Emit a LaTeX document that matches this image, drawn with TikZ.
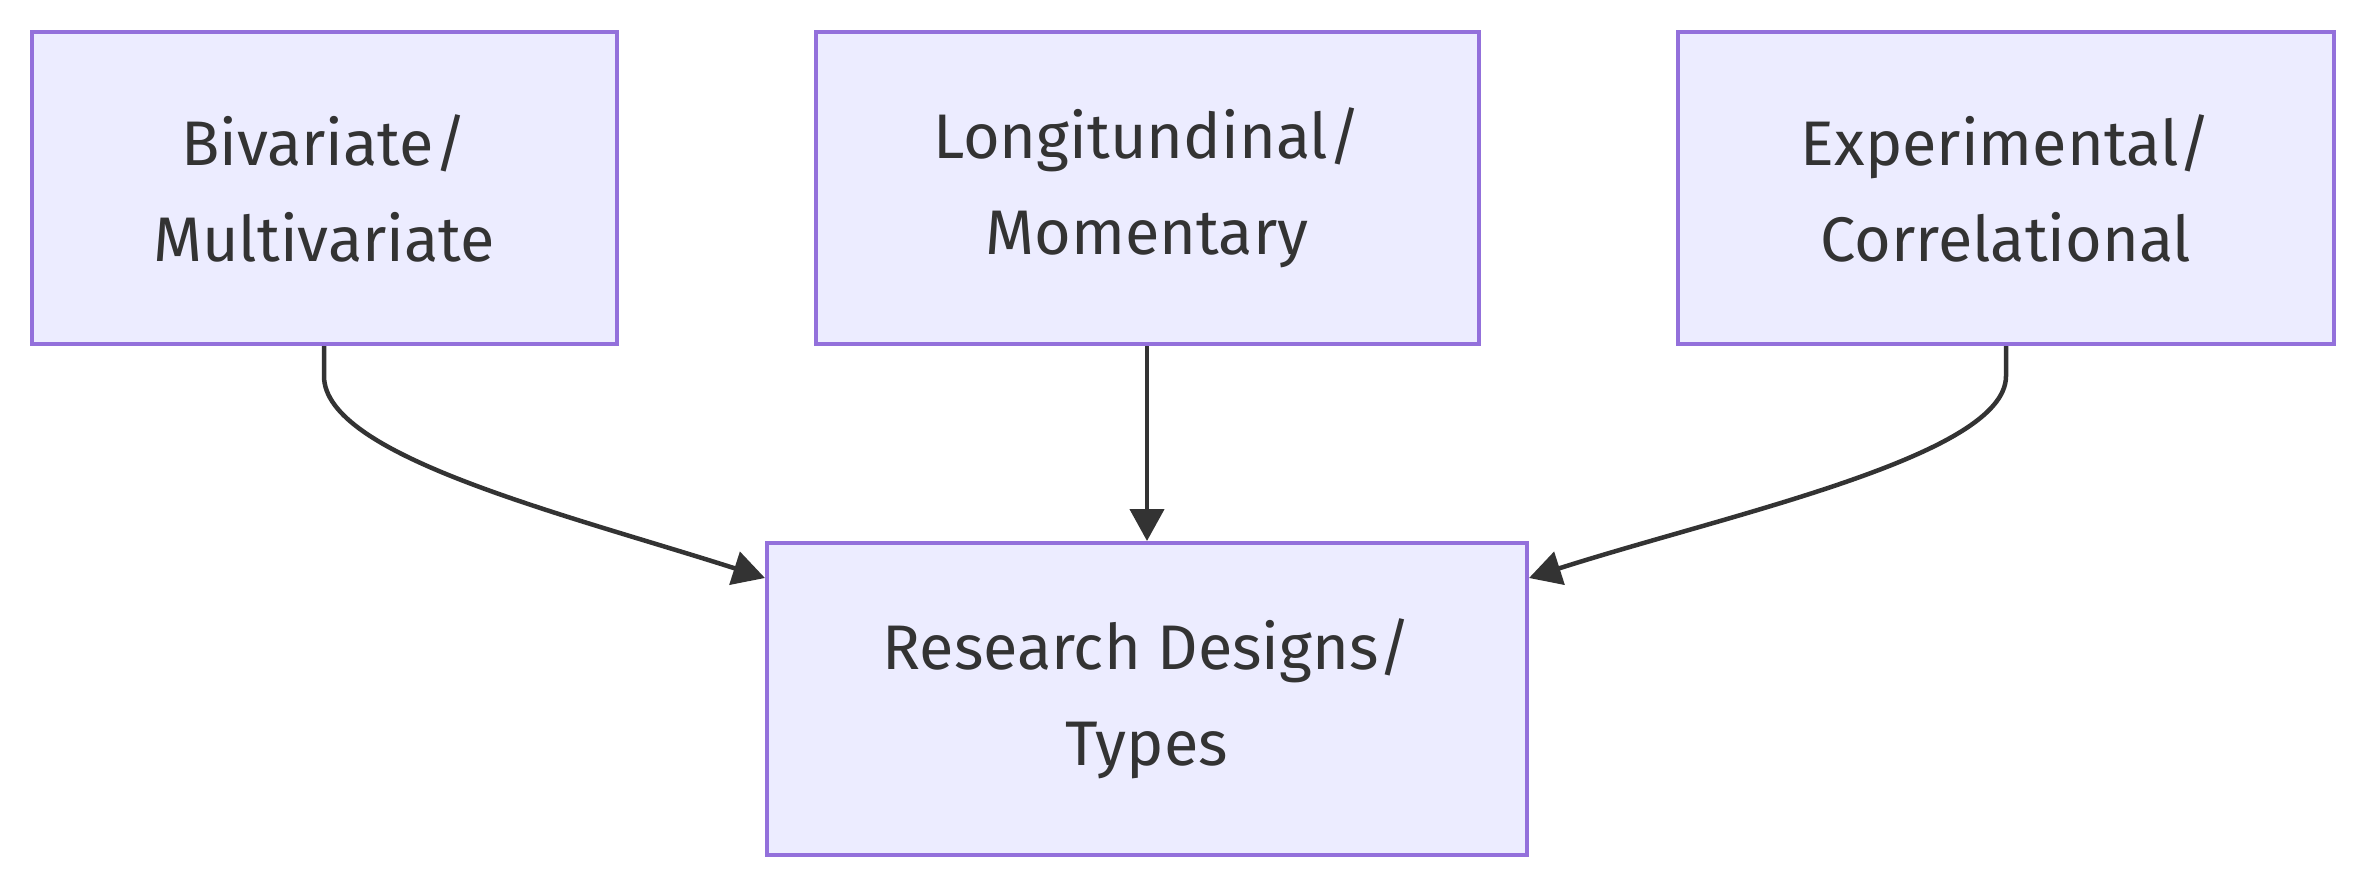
\documentclass[tikz,border=0pt]{standalone}
\usepackage{fontspec}
\setmainfont{Fira Sans}
\usepackage{tikz}
\usetikzlibrary{calc,arrows.meta,positioning}
\definecolor{boxfill}{HTML}{ECECFF}
\definecolor{boxline}{HTML}{9370DB}
\definecolor{ink}{HTML}{333333}
\tikzset{
  design/.style={draw=boxline,fill=boxfill,line width=4pt,text=ink,align=center,
    inner sep=0pt,minimum height=312pt,font=\fontsize{63}{96}\selectfont},
  link/.style={draw=ink,line width=4.5pt,-{Triangle[length=32pt,width=34pt]}}
}
\begin{document}
\begin{tikzpicture}[x=1pt,y=-1pt]
  \useasboundingbox (0,0) rectangle (2364,888);
  % upper row
  \node[design,minimum width=585pt] (bivar) at (324,188) {Bivariate/\\Multivariate};
  \node[design,minimum width=663pt] (longit) at (1147,188) {Longitundinal/\\Momentary};
  \node[design,minimum width=656pt] (exper) at (2006,188) {Experimental/\\Correlational};
  % target
  \node[design,minimum width=760pt] (resdes) at (1147,699) {Research Designs/\\Types};
  \coordinate (inL) at ($(resdes.north west)+(0,37)$);
  \coordinate (inR) at ($(resdes.north east)+(0,37)$);
  % connectors
  \draw[link] (bivar.south) -- ++(0,30) .. controls +(0,80) and +(-200,-64) .. (inL);
  \draw[link] (longit.south) -- (resdes.north);
  \draw[link] (exper.south) -- ++(0,30) .. controls +(0,80) and +(200,-64) .. (inR);
\end{tikzpicture}
\end{document}
